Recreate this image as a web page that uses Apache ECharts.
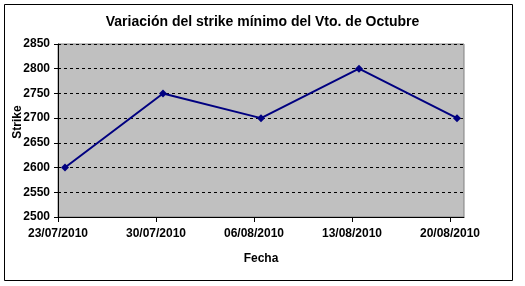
<!DOCTYPE html>
<html><head><meta charset="utf-8">
<script src="https://cdn.jsdelivr.net/npm/echarts@6/dist/echarts.min.js"></script>
<style>html,body{margin:0;padding:0;background:#fff}#c{width:525px;height:286px}</style>
</head><body><div id="c"></div>
<script>
var dates = ['23/07/2010','30/07/2010','06/08/2010','13/08/2010','20/08/2010'];
var strikes = [2600, 2750, 2700, 2800, 2700];
var yTicks = [2500, 2550, 2600, 2650, 2700, 2750, 2800, 2850];

function dayNum(s){var p=s.split('/');return Date.UTC(+p[2],+p[1]-1,+p[0])/86400000;}
var d0 = dayNum(dates[0]);
var tickDays = dates.map(function(d){return dayNum(d)-d0;});
var lastDay = tickDays[tickDays.length-1] + 1;
var pts = dates.map(function(d,i){return [dayNum(d)-d0+0.5, strikes[i]];});

var font = 'Liberation Sans, Arial, sans-serif';
var chart = echarts.init(document.getElementById('c'), null, {renderer:'canvas'});
chart.setOption({
  animation:false,
  backgroundColor:'#fff',
  title:{text:'Variación del strike mínimo del Vto. de Octubre', left:'center', top:10,
    textStyle:{fontFamily:font, fontWeight:'bold', fontSize:14, color:'#000'}},
  grid:{left:58, right:61, top:44, bottom:69, containLabel:false, outerBoundsMode:'none',
    show:true, backgroundColor:'#C0C0C0', borderColor:'#808080', borderWidth:1},
  xAxis:{type:'value', min:0, max:lastDay,
    name:'Fecha', nameLocation:'middle', nameGap:36,
    nameTextStyle:{fontFamily:font, fontWeight:'bold', fontSize:12, color:'#000'},
    axisLine:{show:true, onZero:false, lineStyle:{color:'#000', width:1}},
    axisTick:{show:true, length:5, lineStyle:{color:'#000'}, customValues:tickDays},
    axisLabel:{fontFamily:font, fontWeight:'bold', fontSize:12, color:'#000', margin:11,
      customValues:tickDays,
      formatter:function(v){var i=tickDays.indexOf(Math.round(v));return i>=0?dates[i]:'';}},
    splitLine:{show:false}},
  yAxis:{type:'value', min:yTicks[0], max:yTicks[yTicks.length-1], interval:50,
    axisLine:{show:true, lineStyle:{color:'#000', width:1}},
    axisTick:{show:true, length:4, lineStyle:{color:'#000'}},
    axisLabel:{fontFamily:font, fontWeight:'bold', fontSize:12, color:'#000', margin:8,
      formatter:function(v){return String(v);}},
    splitLine:{show:true, lineStyle:{color:'#000', type:[3,3], width:1}}},
  series:[{type:'line', data:pts, symbol:'diamond', symbolSize:8,
    lineStyle:{color:'#000080', width:2}, itemStyle:{color:'#000080'}}],
  graphic:[
    {type:'rect', shape:{x:4.5, y:4.5, width:508, height:276}, style:{fill:null, stroke:'#000', lineWidth:1}, silent:true, z:100},
    {type:'text', x:18, y:122, rotation:Math.PI/2, z:101,
      style:{text:'Strike', fill:'#000', font:'bold 12px Liberation Sans, Arial, sans-serif', align:'center', verticalAlign:'middle'}}
  ]
});
</script></body></html>
